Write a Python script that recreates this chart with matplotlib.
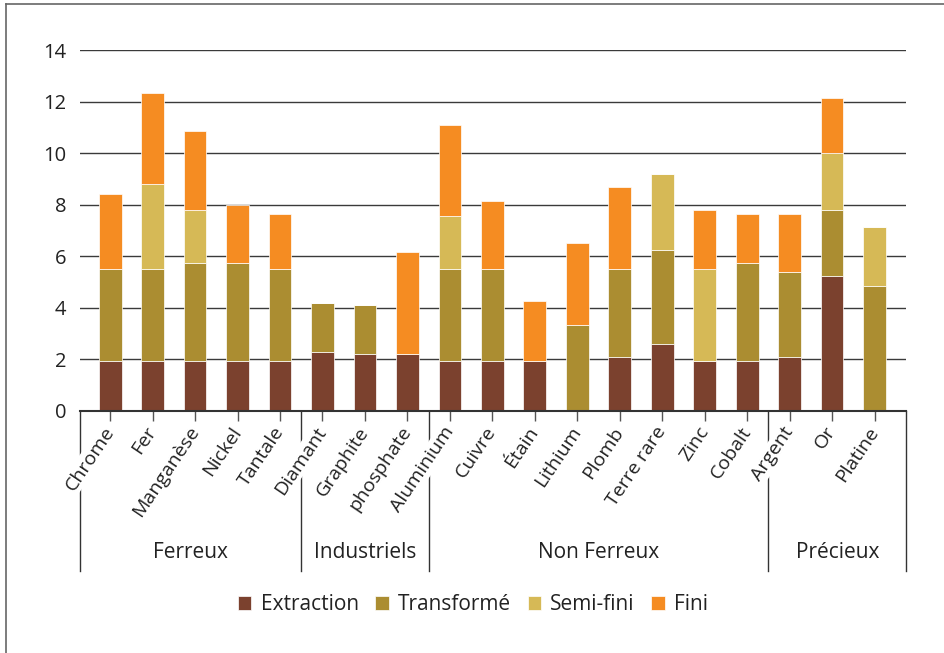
import matplotlib
matplotlib.use('Agg')
import matplotlib.pyplot as plt
import numpy as np
from matplotlib.lines import Line2D
from matplotlib.transforms import blended_transform_factory

# values (stacked segments)
categories = ['Chrome', 'Fer', 'Manganèse', 'Nickel', 'Tantale',
              'Diamant', 'Graphite', 'phosphate',
              'Aluminium', 'Cuivre', 'Étain', 'Lithium', 'Plomb', 'Terre rare', 'Zinc', 'Cobalt',
              'Argent', 'Or', 'Platine']
extraction = [1.95, 1.95, 1.95, 1.95, 1.95, 2.3, 2.2, 2.2, 1.95, 1.95, 1.95, 0, 2.1, 2.6, 1.95, 1.95, 2.1, 5.25, 0]
transforme = [3.55, 3.55, 3.8, 3.8, 3.55, 1.9, 1.9, 0, 3.55, 3.55, 0, 3.35, 3.4, 3.65, 0, 3.8, 3.3, 2.55, 4.85]
semi_fini = [0, 3.3, 2.05, 0, 0, 0, 0, 0, 2.05, 0, 0, 0, 0, 2.95, 3.55, 0, 0, 2.2, 2.3]
fini = [2.9, 3.55, 3.05, 2.25, 2.15, 0, 0, 3.95, 3.55, 2.65, 2.3, 3.15, 3.2, 0, 2.3, 1.9, 2.25, 2.15, 0]

groups = ['Ferreux', 'Industriels', 'Non Ferreux', 'Précieux']
group_sizes = [5, 3, 8, 3]

series_names = ['Extraction', 'Transformé', 'Semi-fini', 'Fini']
colors = ['#7b412e', '#ab8d31', '#d6b956', '#f58c22']

plt.rcParams['font.family'] = ['Open Sans', 'DejaVu Sans']
plt.rcParams['font.size'] = 14.5
text_color = '#222222'

W, H = 944, 653
fig = plt.figure(figsize=(W / 100, H / 100), dpi=100)
ax = fig.add_axes([80 / W, 1 - 411 / H, 826 / W, 361 / H])

x = np.arange(len(categories))
bottom = np.zeros(len(categories))
for name, vals, col in zip(series_names, [extraction, transforme, semi_fini, fini], colors):
    vals = np.array(vals)
    ax.bar(x, vals, width=0.535, bottom=bottom, color=col, edgecolor='white',
           linewidth=0.5, label=name)
    bottom += vals

ax.set_xlim(-0.71, len(categories) - 1 + 0.74)
ax.set_ylim(0, 14)
ax.set_yticks(np.arange(0, 15, 2))
ax.set_axisbelow(True)
ax.yaxis.grid(True, color='#3a3a3a', linewidth=1)
ax.tick_params(axis='y', length=0, pad=10, labelcolor=text_color, labelsize=14.5)
for side in ['top', 'right', 'left']:
    ax.spines[side].set_visible(False)
ax.spines['bottom'].set_color('#333333')
ax.spines['bottom'].set_linewidth(1.5)

ax.set_xticks(x)
ax.set_xticklabels(categories, rotation=56, ha='right', va='center',
                   rotation_mode='anchor', color=text_color, fontsize=14,
                   bbox=dict(facecolor='white', edgecolor='none', pad=1))
ax.tick_params(axis='x', length=7.5, width=1, color='#555555', pad=5)

# multi-level category axis: separators and group names
trans = blended_transform_factory(ax.transData, ax.transAxes)
edges = np.concatenate([[0], np.cumsum(group_sizes)]) - 0.5
edges[0] = ax.get_xlim()[0]
edges[-1] = ax.get_xlim()[1]
y_low = (411 - 571) / 361
for e in edges:
    ax.add_line(Line2D([e, e], [0, y_low], transform=trans, color='#333333',
                       linewidth=1, clip_on=False, zorder=0.2))
for g, a, b in zip(groups, edges[:-1], edges[1:]):
    ax.text((a + b) / 2, (411 - 553) / 361, g, transform=trans, ha='center',
            va='center', color=text_color, fontsize=15)

fig.legend(loc='center', bbox_to_anchor=(473 / W, 1 - 605 / H), ncol=4, frameon=False,
           fontsize=15, handlelength=0.63, handleheight=0.63, handletextpad=0.45,
           columnspacing=0.8, labelcolor=text_color)

# frame of the original card (left and top edges only)
fig.add_artist(Line2D([5.5 / W, 5.5 / W], [0, 1 - 4 / H], color='#666666', linewidth=1.2))
fig.add_artist(Line2D([5.5 / W, 1], [1 - 4 / H, 1 - 4 / H], color='#666666', linewidth=1.2))

fig.savefig('out.png', dpi=100)
